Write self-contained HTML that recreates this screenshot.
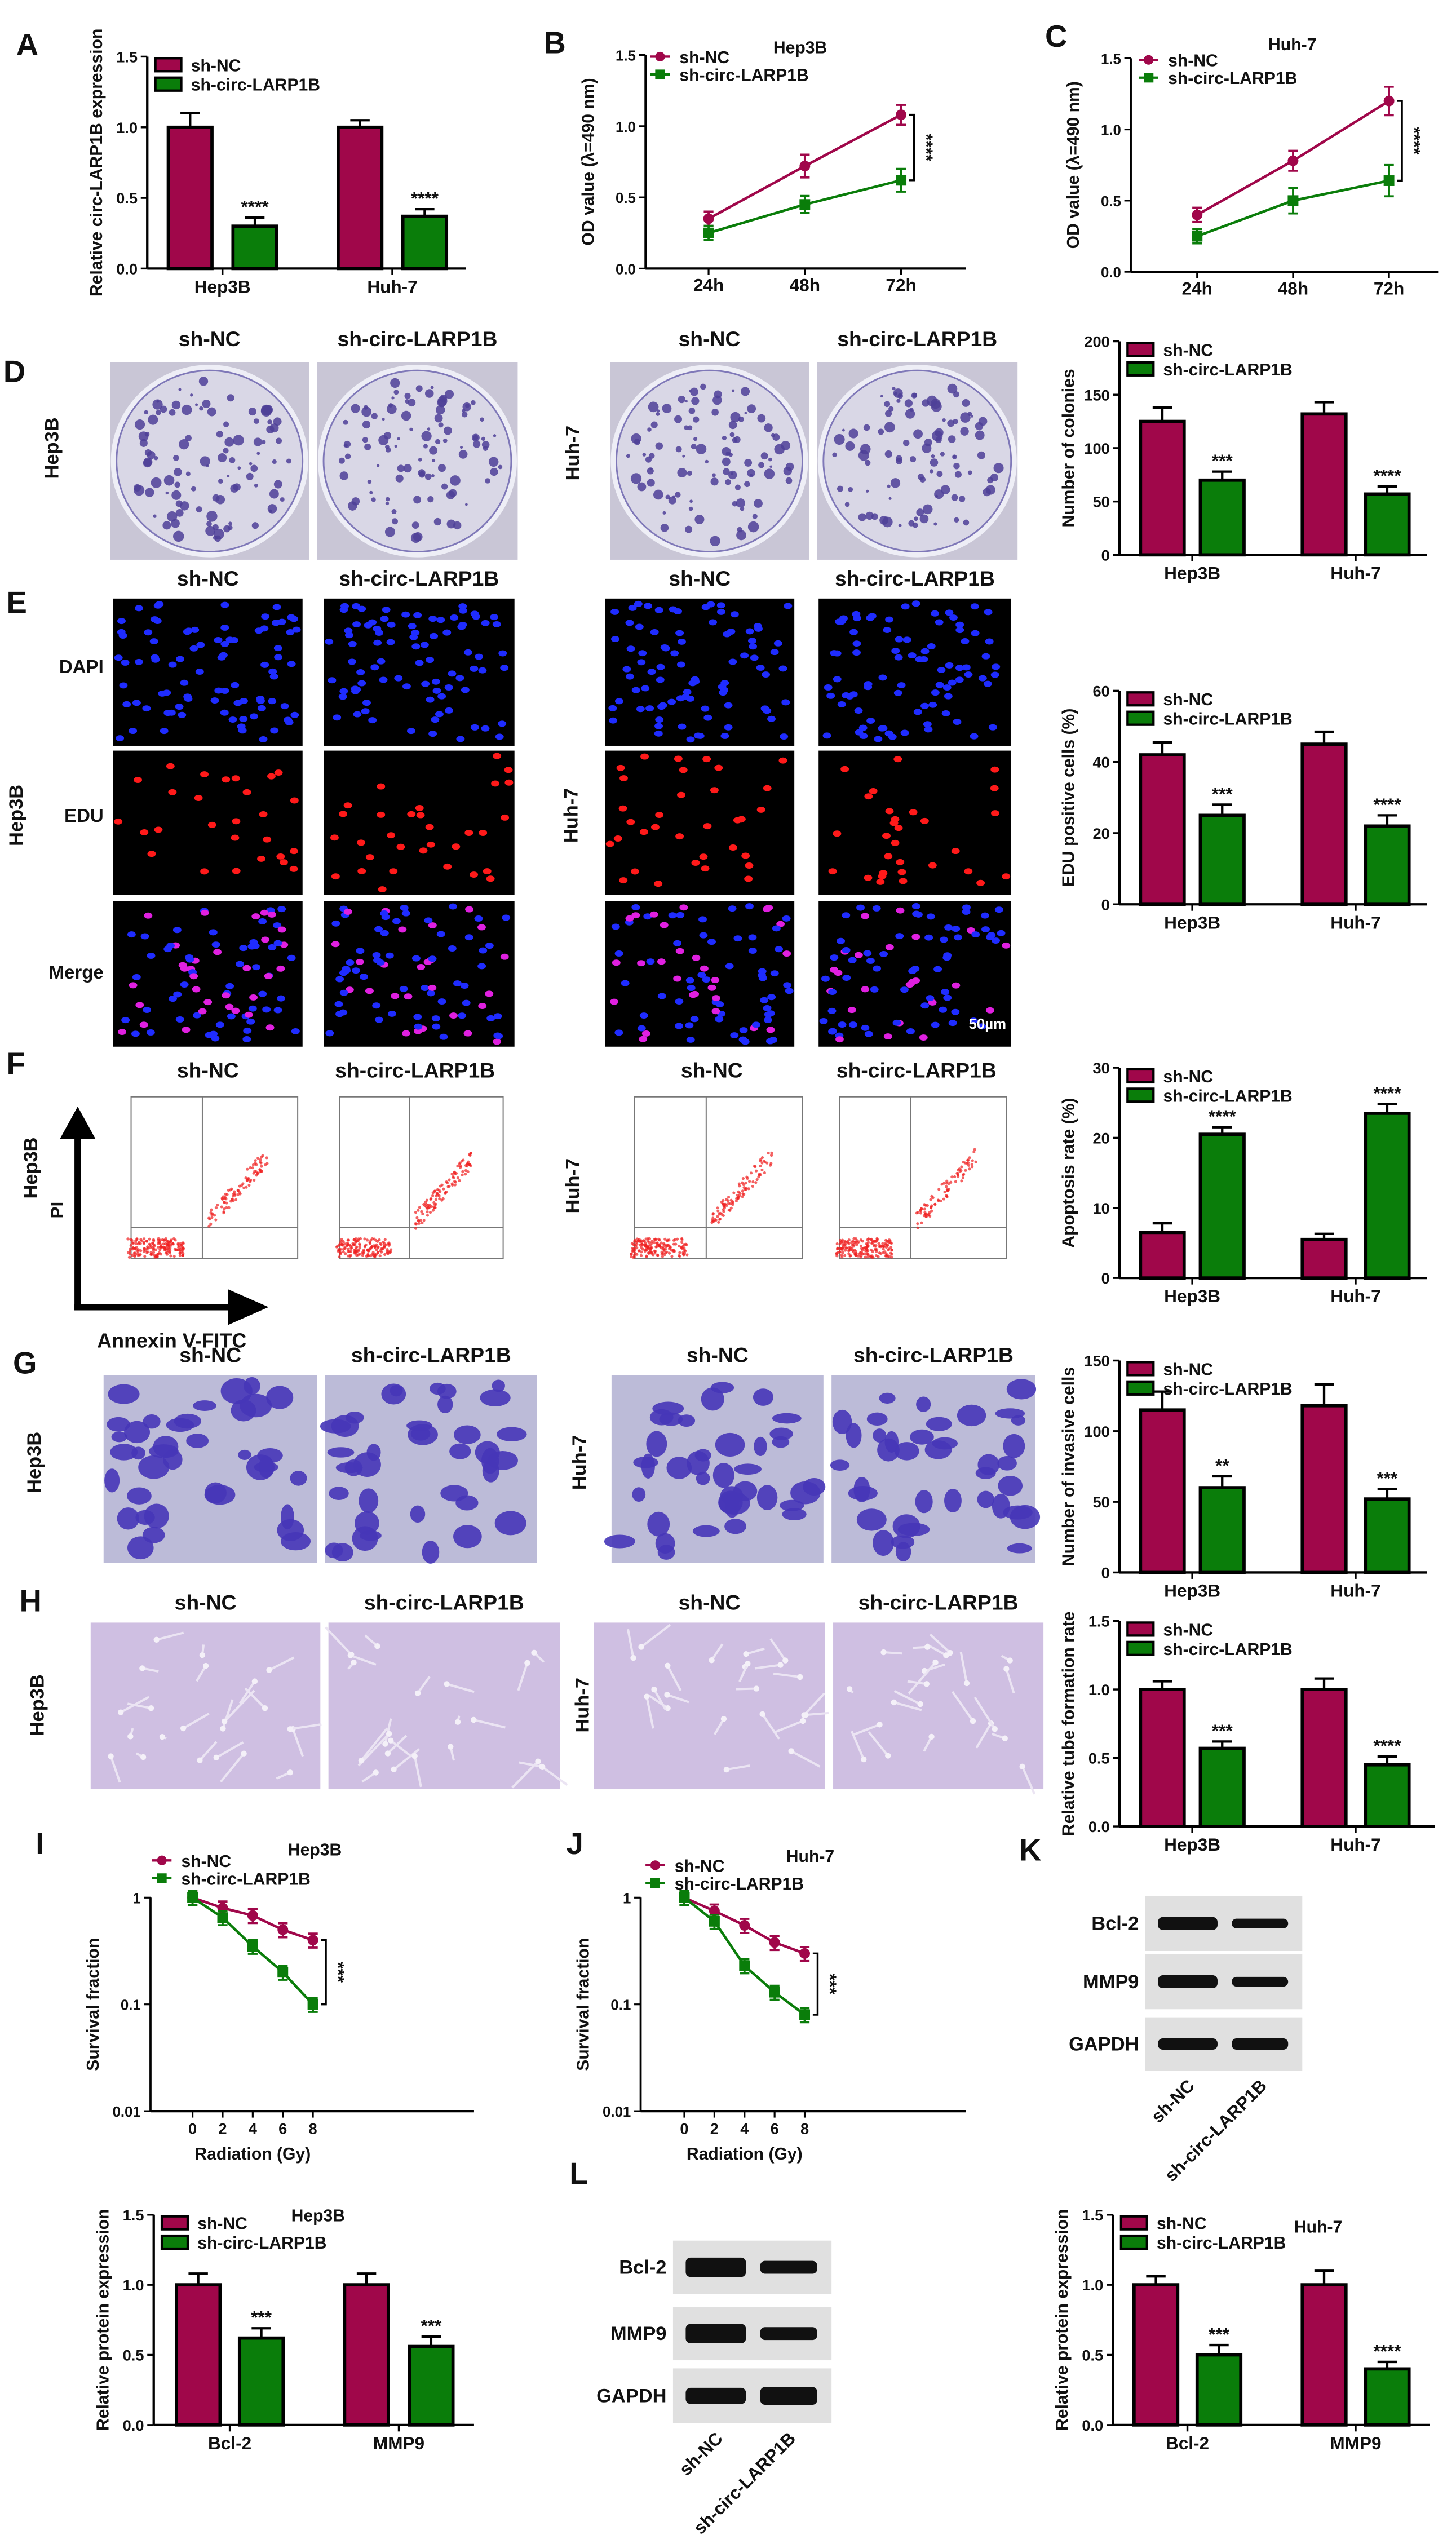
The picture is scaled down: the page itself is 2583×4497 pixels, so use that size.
<!DOCTYPE html>
<html><head><meta charset="utf-8">
<style>
html,body{margin:0;padding:0;background:#fff;}
svg{display:block;}
text{font-family:"Liberation Sans",Arial,sans-serif;font-weight:bold;}
</style></head>
<body>
<svg id="fig" xmlns="http://www.w3.org/2000/svg" width="2583" height="4497" viewBox="0 0 900 1567">
<rect x="0" y="0" width="900" height="1567" fill="#fff"/>
<g id="root"></g>
</svg>
<script>
// ---- data arrays ----
var groups = ["Hep3B", "Huh-7"];
var aNC = [1.0, 1.0], aKD = [0.30, 0.37], aErrNC = [0.10, 0.05], aErrKD = [0.06, 0.05], aStars = ["****", "****"];
var dNC = [125, 132], dKD = [70, 57], dErrNC = [13, 11], dErrKD = [8, 7], dStars = ["***", "****"];
var eNC = [42, 45], eKD = [25, 22], eErrNC = [3.5, 3.5], eErrKD = [3, 3], eStars = ["***", "****"];
var fNC = [6.5, 5.5], fKD = [20.5, 23.5], fErrNC = [1.3, 0.8], fErrKD = [1.0, 1.3], fStars = ["****", "****"];
var gNC = [115, 118], gKD = [60, 52], gErrNC = [13, 15], gErrKD = [8, 7], gStars = ["**", "***"];
var hNC = [1.0, 1.0], hKD = [0.57, 0.45], hErrNC = [0.06, 0.08], hErrKD = [0.05, 0.06], hStars = ["***", "****"];
var lNC = [1.0, 1.0], lKD = [0.62, 0.56], lErrNC = [0.08, 0.08], lErrKD = [0.07, 0.07], lStars = ["***", "***"];
var kNC = [1.0, 1.0], kKD = [0.50, 0.40], kErrNC = [0.06, 0.1], kErrKD = [0.07, 0.05], kStars = ["***", "****"];
var proteins = ["Bcl-2", "MMP9"];
var timeLabels = ["24h", "48h", "72h"];
var bNC = [0.35, 0.72, 1.08], bKD = [0.25, 0.45, 0.62], bErrNC = [0.05, 0.08, 0.07], bErrKD = [0.05, 0.06, 0.08];
var cNC = [0.40, 0.78, 1.20], cKD = [0.25, 0.50, 0.64], cErrNC = [0.05, 0.07, 0.1], cErrKD = [0.05, 0.09, 0.11];
var doses = [0, 2, 4, 6, 8];
var iNC = [1.0, 0.80, 0.68, 0.50, 0.40], iKD = [1.0, 0.65, 0.35, 0.20, 0.10];
var jNC = [1.0, 0.75, 0.55, 0.38, 0.30], jKD = [1.0, 0.60, 0.23, 0.13, 0.08];
var linTicks15 = [0, 0.5, 1.0, 1.5];

var RED = "#a0074a", GRN = "#0a7d0a";
var root = document.getElementById('root');
var NS = "http://www.w3.org/2000/svg";
function mk(tag, a, p) { var e = document.createElementNS(NS, tag); for (var k in a) e.setAttribute(k, a[k]); (p || root).appendChild(e); return e; }
function tx(x, y, s, size, anchor, p, rot) {
  var e = mk('text', {x: x, y: y, 'font-size': size, 'text-anchor': anchor || 'start', fill: '#111'}, p);
  if (rot) e.setAttribute('transform', 'rotate(' + rot + ' ' + x + ' ' + y + ')');
  e.textContent = s; return e;
}
function fmt(v, dec) { return dec === undefined ? String(v) : v.toFixed(dec); }

function legend(x, y, p) {
  var g = mk('g', {}, p);
  
  
  var r1 = mk('rect', {x: x, y: y - 8, width: 16, height: 8, fill: RED, stroke: '#000', 'stroke-width': 1.5}, g);
  
  
  tx(x + 22, y, 'sh-NC', 10.5, 'start', g);
  var r2 = mk('rect', {x: x, y: y + 4, width: 16, height: 8, fill: GRN, stroke: '#000', 'stroke-width': 1.5}, g);
  
  
  tx(x + 22, y + 12, 'sh-circ-LARP1B', 10.5, 'start', g);
}

function barChart(c) {
  var g = mk('g', {});
  
  
  var yS = function (v) { return c.y0 - (v / c.max) * (c.y0 - c.yTop); };
  mk('line', {x1: c.x, y1: c.yTop, x2: c.x, y2: c.y0, stroke: '#000', 'stroke-width': 1.5}, g);
  mk('line', {x1: c.x, y1: c.y0, x2: c.x + c.w, y2: c.y0, stroke: '#000', 'stroke-width': 1.5}, g);
  c.ticks.forEach(function (t) {
    var y = yS(t);
    mk('line', {x1: c.x - 4, y1: y, x2: c.x, y2: y, stroke: '#000', 'stroke-width': 1.2}, g);
    tx(c.x - 6, y + 3.5, fmt(t, c.dec), 9.5, 'end', g).setAttribute('font-weight', 'normal');
  });
  var offs = c.offs || [13, 50, 113, 152], bw = c.bw || 27;
  for (var i = 0; i < 2; i++) {
    var vals = [c.nc[i], c.kd[i]], errs = [c.enc[i], c.ekd[i]];
    for (var j = 0; j < 2; j++) {
      var bx = c.x + offs[i * 2 + j], top = yS(vals[j]);
      var ey = yS(vals[j] + errs[j]);
      mk('line', {x1: bx + bw / 2, y1: top, x2: bx + bw / 2, y2: ey, stroke: '#000', 'stroke-width': 1.5}, g);
      mk('line', {x1: bx + bw / 2 - 6, y1: ey, x2: bx + bw / 2 + 6, y2: ey, stroke: '#000', 'stroke-width': 1.5}, g);
      var b = mk('rect', {x: bx, y: top, width: bw, height: c.y0 - top, fill: j ? GRN : RED, stroke: '#000', 'stroke-width': 2}, g);
      
      
      if (j) tx(bx + bw / 2, ey - 3, c.stars[i], 11, 'middle', g);
    }
    var cx = c.x + (offs[i * 2] + offs[i * 2 + 1] + bw) / 2;
    mk('line', {x1: cx, y1: c.y0, x2: cx, y2: c.y0 + 4, stroke: '#000', 'stroke-width': 1.2}, g);
    tx(cx, c.y0 + 15, c.cats[i], 11, 'middle', g);
  }
  var yl = tx(c.x - 28, (c.yTop + c.y0) / 2, c.ylabel, 10.5, 'middle', g, -90);
  
  
  if (c.title) tx(c.title[0], c.title[1], c.title[2], 10.5, 'start', g);
  legend(c.x + 5, c.yTop + 9, g);
}

function lineChart(c) {
  var g = mk('g', {});
  
  
  var yS = c.log ? function (v) { return c.y0 - (Math.log10(v) + 2) / 2 * (c.y0 - c.yTop); }
                 : function (v) { return c.y0 - (v / c.max) * (c.y0 - c.yTop); };
  var xS = function (i) { return c.xs + i * c.dx; };
  mk('line', {x1: c.x, y1: c.yTop, x2: c.x, y2: c.y0, stroke: '#000', 'stroke-width': 1.3}, g);
  mk('line', {x1: c.x, y1: c.y0, x2: c.x + c.w, y2: c.y0, stroke: '#000', 'stroke-width': 1.5}, g);
  c.ticks.forEach(function (t, k) {
    var y = yS(t);
    mk('line', {x1: c.x - 4, y1: y, x2: c.x, y2: y, stroke: '#000', 'stroke-width': 1.1}, g);
    tx(c.x - 6, y + 3.5, c.tickLabels[k], 9, 'end', g).setAttribute('font-weight', 'normal');
  });
  c.xlabels.forEach(function (l, i) {
    mk('line', {x1: xS(i), y1: c.y0, x2: xS(i), y2: c.y0 + 4, stroke: '#000', 'stroke-width': 1.1}, g);
    var t = tx(xS(i), c.y0 + 14, l, c.log ? 9.5 : 11, 'middle', g);
    if (c.log) t.setAttribute('font-weight', 'normal');
  });
  [[c.nc, c.enc, RED, 'sh-nc'], [c.kd, c.ekd, GRN, 'sh-circ-larp1b']].forEach(function (s) {
    var pts = s[0].map(function (v, i) { return xS(i) + ',' + yS(v); }).join(' ');
    var pl = mk('polyline', {points: pts, fill: 'none', stroke: s[2], 'stroke-width': 1.6}, g);
    
    
    s[0].forEach(function (v, i) {
      var e = s[1] ? s[1][i] : (c.log ? v * 0.15 : 0);
      var y1 = yS(v + e), y2 = yS(Math.max(v - e, 0.011));
      mk('line', {x1: xS(i), y1: y1, x2: xS(i), y2: y2, stroke: s[2], 'stroke-width': 1.3}, g);
      mk('line', {x1: xS(i) - 3, y1: y1, x2: xS(i) + 3, y2: y1, stroke: s[2], 'stroke-width': 1.3}, g);
      mk('line', {x1: xS(i) - 3, y1: y2, x2: xS(i) + 3, y2: y2, stroke: s[2], 'stroke-width': 1.3}, g);
      var p = s[3] === 'sh-nc' ? mk('circle', {cx: xS(i), cy: yS(v), r: 3.3, fill: s[2]}, g)
                               : mk('rect', {x: xS(i) - 3.3, y: yS(v) - 3.3, width: 6.6, height: 6.6, fill: s[2]}, g);
      
      
    });
  });
  var last = c.nc.length - 1, bx = xS(last) + 8;
  var ya = yS(c.nc[last]), yb = yS(c.kd[last]);
  mk('polyline', {points: (bx - 3) + ',' + ya + ' ' + bx + ',' + ya + ' ' + bx + ',' + yb + ' ' + (bx - 3) + ',' + yb, fill: 'none', stroke: '#000', 'stroke-width': 1.2}, g);
  tx(bx + 4, (ya + yb) / 2, c.star, 11, 'middle', g, 90);
  var yl = tx(c.x - 32, (c.yTop + c.y0) / 2, c.ylabel, 10.5, 'middle', g, -90);
  
  
  if (c.xtitle) tx((c.xs + xS(last)) / 2, c.y0 + 30, c.xtitle, 10.5, 'middle', g);
  tx(c.title[0], c.title[1], c.title[2], 10.5, 'start', g);
  var lg = mk('g', {}, g);
  
  
  var lx = c.leg[0], ly = c.leg[1];
  mk('line', {x1: lx - 6, y1: ly, x2: lx + 6, y2: ly, stroke: RED, 'stroke-width': 1.5}, lg);
  mk('circle', {cx: lx, cy: ly, r: 3, fill: RED}, lg);
  tx(lx + 12, ly + 4, 'sh-NC', 10.5, 'start', lg);
  mk('line', {x1: lx - 6, y1: ly + 11, x2: lx + 6, y2: ly + 11, stroke: GRN, 'stroke-width': 1.5}, lg);
  mk('rect', {x: lx - 3, y: ly + 8, width: 6, height: 6, fill: GRN}, lg);
  tx(lx + 12, ly + 15, 'sh-circ-LARP1B', 10.5, 'start', lg);
}

// Panel letters
[['A', 10, 34], ['B', 336, 33], ['C', 646, 29], ['D', 2, 236], ['E', 4, 379], ['F', 4, 664],
 ['G', 8, 849], ['H', 12, 996], ['I', 22, 1146], ['J', 350, 1146], ['K', 630, 1150], ['L', 352, 1350]].forEach(function (p) {
  var t = tx(p[1], p[2], p[0], 19, 'start');
  
  
});

barChart({name: 'chart-a-circ-expression', x: 91, y0: 166, yTop: 35, max: 1.5, w: 197, ticks: linTicks15, dec: 1, offs: [13, 53, 118, 158],
  nc: aNC, kd: aKD, enc: aErrNC, ekd: aErrKD, stars: aStars, cats: groups, ylabel: 'Relative circ-LARP1B expression'});
lineChart({name: 'chart-b-hep3b-od', x: 399, y0: 166, yTop: 34, max: 1.5, w: 198, xs: 438, dx: 59.5, ticks: linTicks15, tickLabels: ['0.0', '0.5', '1.0', '1.5'],
  xlabels: timeLabels, nc: bNC, kd: bKD, enc: bErrNC, ekd: bErrKD, star: '****', ylabel: 'OD value (λ=490 nm)', title: [478, 33, 'Hep3B'], leg: [408, 35]});
lineChart({name: 'chart-c-huh7-od', x: 699, y0: 168, yTop: 36, max: 1.5, w: 190, xs: 740, dx: 59.3, ticks: linTicks15, tickLabels: ['0.0', '0.5', '1.0', '1.5'],
  xlabels: timeLabels, nc: cNC, kd: cKD, enc: cErrNC, ekd: cErrKD, star: '****', ylabel: 'OD value (λ=490 nm)', title: [784, 31, 'Huh-7'], leg: [710, 37]});
barChart({name: 'chart-d-colonies', x: 692, y0: 343, yTop: 211, max: 200, w: 190, ticks: [0, 50, 100, 150, 200],
  nc: dNC, kd: dKD, enc: dErrNC, ekd: dErrKD, stars: dStars, cats: groups, ylabel: 'Number of colonies'});
barChart({name: 'chart-e-edu', x: 692, y0: 559, yTop: 427, max: 60, w: 190, ticks: [0, 20, 40, 60],
  nc: eNC, kd: eKD, enc: eErrNC, ekd: eErrKD, stars: eStars, cats: groups, ylabel: 'EDU positive cells (%)'});
barChart({name: 'chart-f-apoptosis', x: 692, y0: 790, yTop: 660, max: 30, w: 190, ticks: [0, 10, 20, 30],
  nc: fNC, kd: fKD, enc: fErrNC, ekd: fErrKD, stars: fStars, cats: groups, ylabel: 'Apoptosis rate (%)'});
barChart({name: 'chart-g-invasion', x: 692, y0: 972, yTop: 841, max: 150, w: 190, ticks: [0, 50, 100, 150],
  nc: gNC, kd: gKD, enc: gErrNC, ekd: gErrKD, stars: gStars, cats: groups, ylabel: 'Number of invasive cells'});
barChart({name: 'chart-h-tube', x: 692, y0: 1129, yTop: 1002, max: 1.5, w: 195, ticks: linTicks15, dec: 1,
  nc: hNC, kd: hKD, enc: hErrNC, ekd: hErrKD, stars: hStars, cats: groups, ylabel: 'Relative tube formation rate'});
lineChart({name: 'chart-i-hep3b-survival', x: 93, y0: 1305, yTop: 1173, log: true, w: 200, xs: 119, dx: 18.6, ticks: [0.01, 0.1, 1], tickLabels: ['0.01', '0.1', '1'],
  xlabels: doses.map(String), nc: iNC, kd: iKD, star: '***', ylabel: 'Survival fraction', xtitle: 'Radiation (Gy)', title: [178, 1147, 'Hep3B'], leg: [100, 1150]});
lineChart({name: 'chart-j-huh7-survival', x: 396, y0: 1305, yTop: 1173, log: true, w: 201, xs: 423, dx: 18.6, ticks: [0.01, 0.1, 1], tickLabels: ['0.01', '0.1', '1'],
  xlabels: doses.map(String), nc: jNC, kd: jKD, star: '***', ylabel: 'Survival fraction', xtitle: 'Radiation (Gy)', title: [486, 1151, 'Huh-7'], leg: [405, 1153]});
barChart({name: 'chart-l-hep3b-protein', x: 95, y0: 1499, yTop: 1369, max: 1.5, w: 198, ticks: linTicks15, dec: 1, offs: [14, 53, 118, 158],
  nc: lNC, kd: lKD, enc: lErrNC, ekd: lErrKD, stars: lStars, cats: proteins, ylabel: 'Relative protein expression', title: [180, 1373, 'Hep3B']});
barChart({name: 'chart-k-huh7-protein', x: 688, y0: 1499, yTop: 1369, max: 1.5, w: 196, ticks: linTicks15, dec: 1, offs: [13, 52, 117, 156],
  nc: kNC, kd: kKD, enc: kErrNC, ekd: kErrKD, stars: kStars, cats: proteins, ylabel: 'Relative protein expression', title: [800, 1380, 'Huh-7']});

// deterministic texture generator for photos
var seed = 7;
function rnd() { seed = (seed * 16807) % 2147483647; return seed / 2147483647; }

function photo(x, y, w, h, type, name) {
  var g = mk('g', {});
  
  
  var i;
  if (type === 'plate') {
    mk('rect', {x: x, y: y, width: w, height: h, fill: '#c9c6d6'}, g);
    mk('ellipse', {cx: x + w / 2, cy: y + h / 2, rx: w / 2 - 2, ry: h / 2 - 3, fill: '#d9d7e6', stroke: '#eeeef6', 'stroke-width': 3}, g);
    mk('ellipse', {cx: x + w / 2, cy: y + h / 2, rx: w / 2 - 4, ry: h / 2 - 5, fill: 'none', stroke: '#7f78b8', 'stroke-width': 1}, g);
    for (i = 0; i < 100; i++) {
      var a = rnd() * 6.283, r = Math.sqrt(rnd()) * 0.92;
      mk('circle', {cx: x + w / 2 + r * (w / 2 - 6) * Math.cos(a), cy: y + h / 2 + r * (h / 2 - 6) * Math.sin(a), r: 0.8 + rnd() * 2.6, fill: '#4e3f98', opacity: 0.85}, g);
    }
  } else if (type === 'dapi' || type === 'edu' || type === 'merge') {
    mk('rect', {x: x, y: y, width: w, height: h, fill: '#000'}, g);
    for (i = 0; i < 85; i++) {
      var px = x + 3 + rnd() * (w - 6), py = y + 3 + rnd() * (h - 6), isR = rnd() < 0.35;
      var col = type === 'dapi' ? '#1f2cff' : type === 'edu' ? (isR ? '#ff1a1a' : null) : (isR ? '#e020e0' : '#1f2cff');
      if (col) mk('ellipse', {cx: px, cy: py, rx: 2.6, ry: 1.9, fill: col}, g);
    }
  } else if (type === 'flow') {
    mk('rect', {x: x, y: y, width: w, height: h, fill: '#fff'}, g);
    mk('rect', {x: x + 10, y: y + 4, width: w - 12, height: h - 16, fill: 'none', stroke: '#777', 'stroke-width': 0.7}, g);
    mk('line', {x1: x + w * 0.47, y1: y + 4, x2: x + w * 0.47, y2: y + h - 12, stroke: '#777', 'stroke-width': 0.7}, g);
    mk('line', {x1: x + 10, y1: y + h * 0.73, x2: x + w - 2, y2: y + h * 0.73, stroke: '#777', 'stroke-width': 0.7}, g);
    for (i = 0; i < 260; i++) {
      var t = rnd(), cl = rnd() < 0.65;
      var fx = cl ? x + w * (0.22 + (rnd() - 0.5) * 0.3) : x + w * (0.5 + t * 0.32);
      var fy = cl ? y + h * (0.84 + (rnd() - 0.5) * 0.1) : y + h * (0.7 - t * 0.35 + (rnd() - 0.5) * 0.1);
      mk('circle', {cx: fx, cy: fy, r: 0.9, fill: '#f02020', opacity: 0.7}, g);
    }
  } else if (type === 'inv') {
    mk('rect', {x: x, y: y, width: w, height: h, fill: '#bcbbd8'}, g);
    for (i = 0; i < 38; i++) mk('ellipse', {cx: x + 5 + rnd() * (w - 10), cy: y + 5 + rnd() * (h - 10), rx: 4 + rnd() * 6, ry: 3 + rnd() * 5, fill: '#4636b8', opacity: 0.9}, g);
  } else if (type === 'tube') {
    mk('rect', {x: x, y: y, width: w, height: h, fill: '#cfbfe2'}, g);
    for (i = 0; i < 22; i++) {
      var sx = x + 10 + rnd() * (w - 20), sy = y + 10 + rnd() * (h - 20);
      mk('line', {x1: sx, y1: sy, x2: sx + (rnd() - 0.5) * 40, y2: sy + (rnd() - 0.5) * 40, stroke: '#ebe4f3', 'stroke-width': 1.4}, g);
      mk('circle', {cx: sx, cy: sy, r: 1.8, fill: '#f4f0f8'}, g);
    }
  }
}
var hdrs = ['sh-NC', 'sh-circ-LARP1B', 'sh-NC', 'sh-circ-LARP1B'];
function row(cols, hy, parts, type) {
  cols.forEach(function (c, k) {
    tx(c[0] + c[1] / 2, hy, hdrs[k], 13, 'middle');
    parts.forEach(function (p, m) { photo(c[0], p[0], c[1], p[1] - p[0], p[2] || type, (p[2] || type) + '-image-' + k); });
  });
}
row([[68, 123], [196, 124], [377, 123], [505, 124]], 214, [[224, 346, 'plate']]);
row([[70, 117], [200, 118], [374, 117], [506, 119]], 362, [[370, 461, 'dapi'], [464, 553, 'edu'], [557, 647, 'merge']]);
row([[71, 115], [200, 113], [382, 116], [509, 115]], 666, [[674, 790, 'flow']]);
row([[64, 132], [201, 131], [378, 131], [514, 126]], 842, [[850, 966, 'inv']]);
row([[56, 142], [203, 143], [367, 143], [515, 130]], 995, [[1003, 1106, 'tube']]);
tx(622, 636, '50µm', 9, 'end').setAttribute('fill', '#fff');
tx(64, 416, 'DAPI', 11.5, 'end'); tx(64, 508, 'EDU', 11.5, 'end'); tx(64, 605, 'Merge', 11.5, 'end');
// row labels
[[36, 277, 'Hep3B'], [358, 280, 'Huh-7'], [14, 504, 'Hep3B'], [357, 504, 'Huh-7'], [23, 722, 'Hep3B'], [358, 733, 'Huh-7'],
 [25, 904, 'Hep3B'], [362, 904, 'Huh-7'], [27, 1054, 'Hep3B'], [364, 1054, 'Huh-7']].forEach(function (p) { tx(p[0], p[1], p[2], 12, 'middle', null, -90); });
// flow axes arrows
mk('polyline', {points: '48,810 48,700', fill: 'none', stroke: '#000', 'stroke-width': 4});
mk('polygon', {points: '37,704 48,684 59,704', fill: '#000'});
mk('polyline', {points: '46,808 145,808', fill: 'none', stroke: '#000', 'stroke-width': 4});
mk('polygon', {points: '141,797 166,808 141,819', fill: '#000'});
tx(60, 833, 'Annexin V-FITC', 12.5, 'start'); tx(39, 748, 'PI', 11, 'middle', null, -90);

// western blots
function blot(x, w, rows, thick, name) {
  var labels = ['Bcl-2', 'MMP9', 'GAPDH'];
  var g = mk('g', {});
  
  
  rows.forEach(function (r, k) {
    var rh = r[1] - r[0];
    mk('rect', {x: x, y: r[0], width: w, height: rh, fill: '#e0e0e0'}, g);
    mk('rect', {x: x + w * 0.08, y: r[0] + rh / 2 - thick[k][0] / 2, width: w * 0.38, height: thick[k][0], rx: 3, fill: '#111'}, g);
    mk('rect', {x: x + w * 0.55, y: r[0] + rh / 2 - thick[k][1] / 2, width: w * 0.36, height: thick[k][1], rx: 3, fill: '#111'}, g);
    tx(x - 4, r[0] + rh / 2 + 4, labels[k], 12, 'end', g).setAttribute('font-weight', 'normal');
  });
  var yb = rows[2][1];
  tx(x + w * 0.32, yb + 10, 'sh-NC', 11, 'end', g, -45);
  tx(x + w * 0.78, yb + 10, 'sh-circ-LARP1B', 11, 'end', g, -45);
}
blot(708, 97, [[1172, 1206], [1208, 1242], [1247, 1280]], [[8, 6], [8, 6], [7, 7]], 'western-blot-k');
blot(416, 98, [[1385, 1418], [1426, 1459], [1464, 1498]], [[12, 8], [12, 8], [10, 11]], 'western-blot-l');
</script>
</body></html>
